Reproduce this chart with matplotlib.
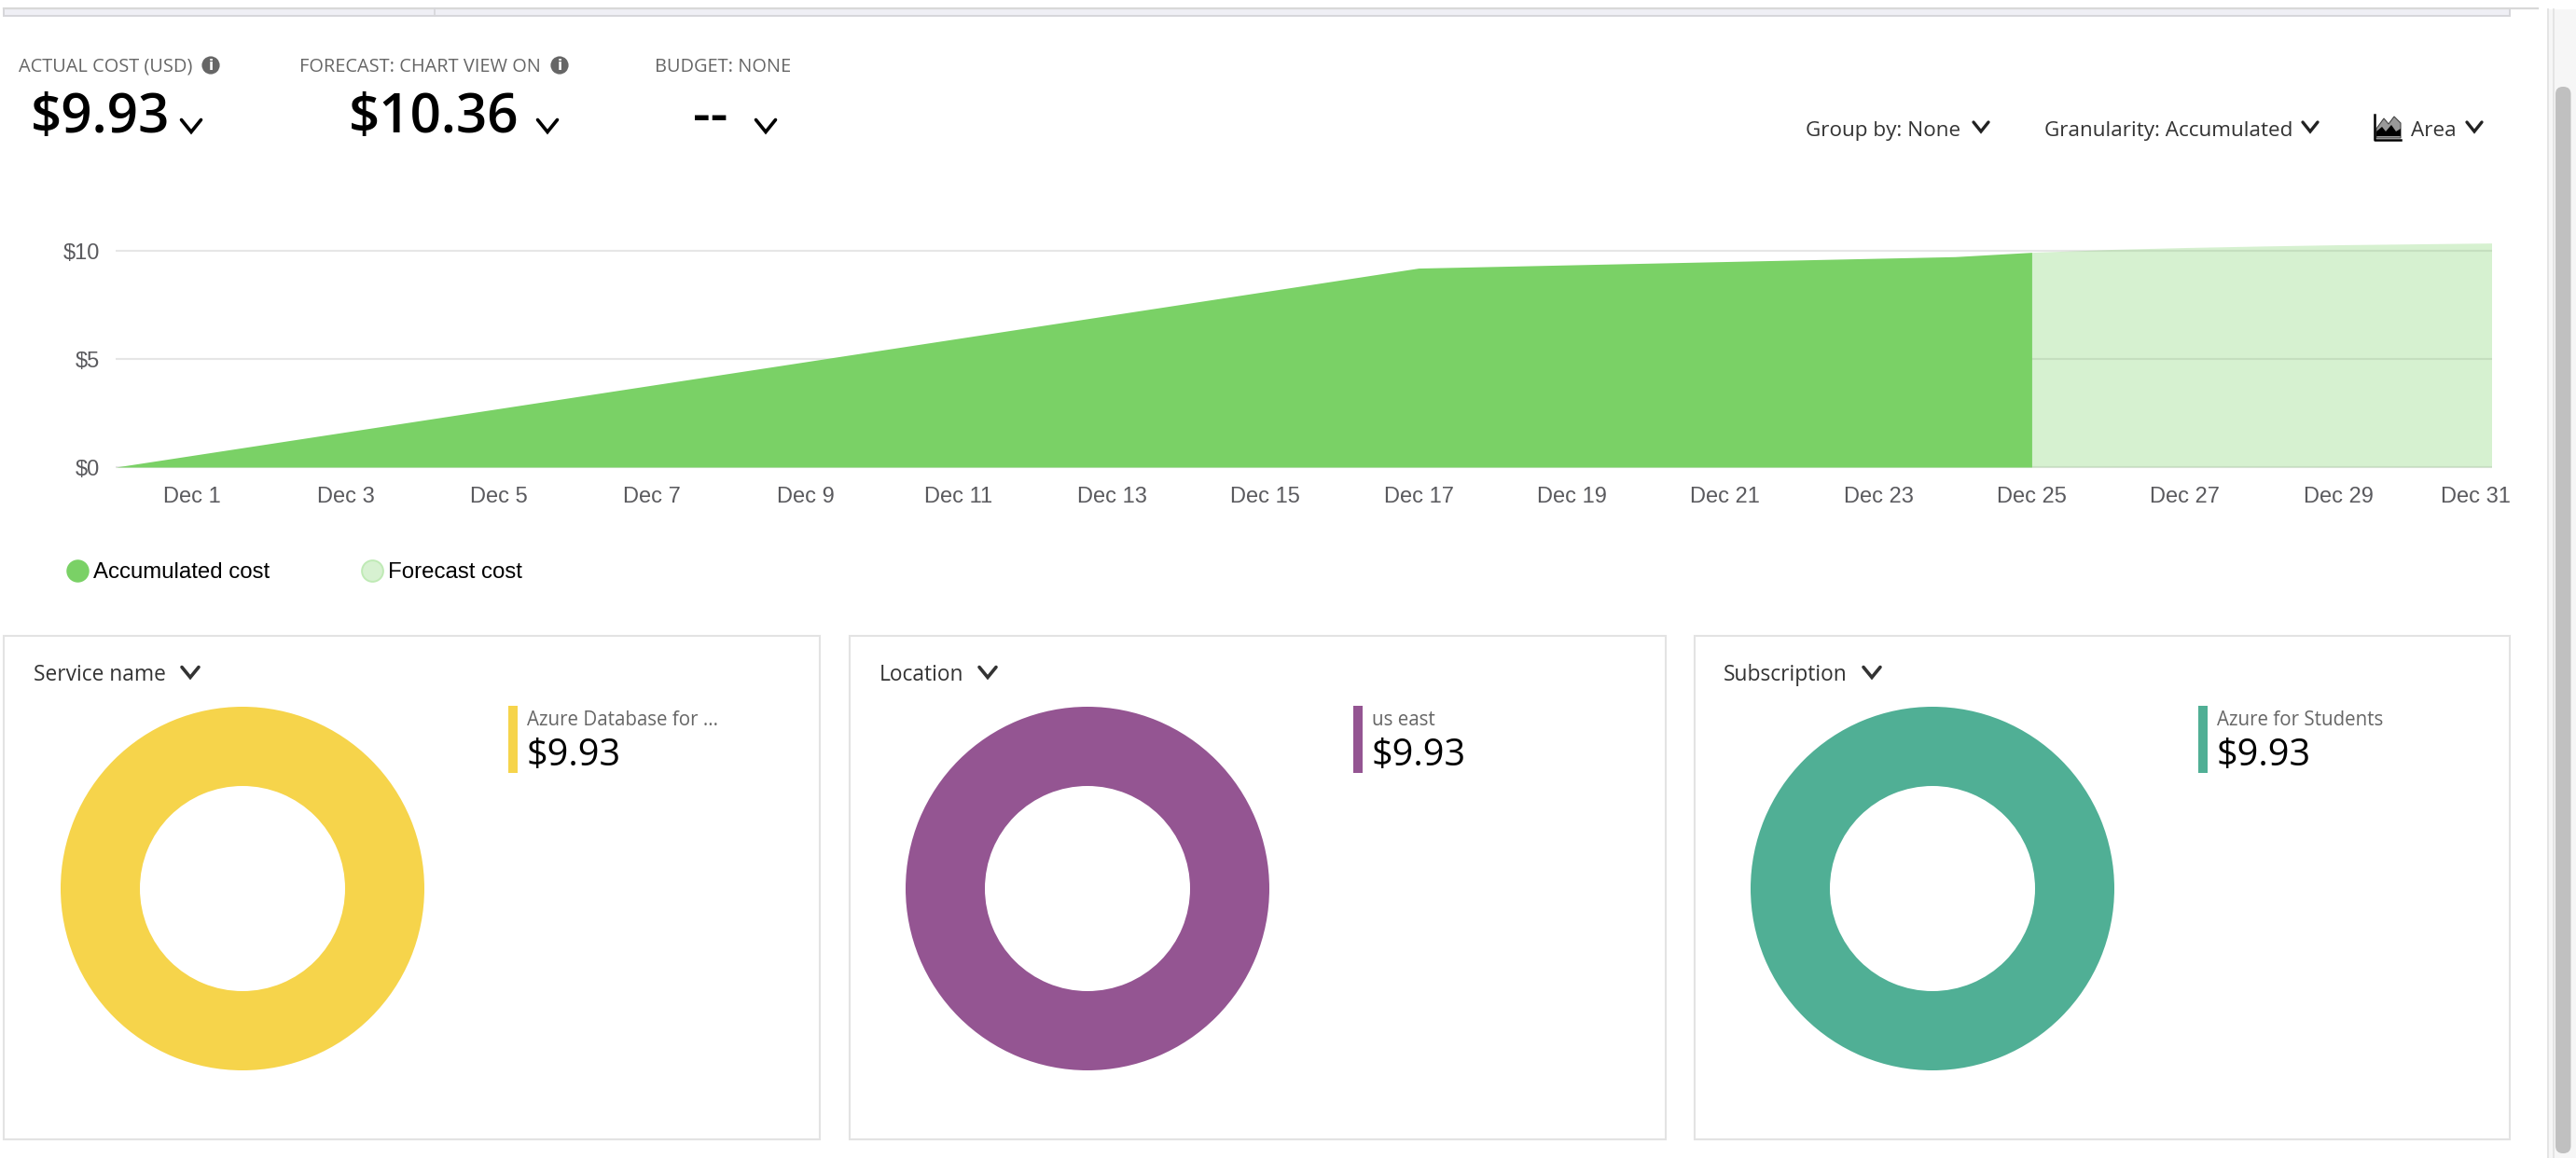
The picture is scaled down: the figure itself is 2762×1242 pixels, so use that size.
import matplotlib
matplotlib.use("Agg")
import matplotlib.pyplot as plt
from matplotlib.lines import Line2D
from matplotlib.patches import Rectangle, Circle, FancyBboxPatch, Polygon
from matplotlib.transforms import ScaledTranslation

# ---- data ----
actual_days = [0, 17, 24, 25]
actual_cost = [0, 9.2, 9.73, 9.93]
forecast_days = [25, 26, 27, 28, 29, 31]
forecast_cost = [9.93, 10.06, 10.15, 10.22, 10.28, 10.36]
tick_days = [1, 3, 5, 7, 9, 11, 13, 15, 17, 19, 21, 23, 25, 27, 29, 31]
tick_labels = ["Dec %d" % d for d in tick_days]
y_ticks = [0, 5, 10]
y_labels = ["$0", "$5", "$10"]
series_names = ["Accumulated cost", "Forecast cost"]
panel_titles = ["Service name", "Location", "Subscription"]
panel_items = ["Azure Database for ...", "us east", "Azure for Students"]
panel_values = [9.93, 9.93, 9.93]
panel_colors = ["#F6D44B", "#945592", "#50AF95"]
kpi_titles = ["ACTUAL COST (USD)", "FORECAST: CHART VIEW ON", "BUDGET: NONE"]
kpi_values = ["$9.93", "$10.36", "--"]
controls = ["Group by: None", "Granularity: Accumulated", "Area"]

GREEN = "#7AD166"
W, H = 2762, 1242
UI = "Open Sans"
CHART = "Liberation Sans"
plt.rcParams["font.family"] = [UI, "DejaVu Sans"]

fig = plt.figure(figsize=(W / 100, H / 100), dpi=100, facecolor="white")

# pixel-space layer for the page furniture
ui = fig.add_axes([0, 0, 1, 1], zorder=-1)
ui.set_xlim(0, W)
ui.set_ylim(H, 0)
ui.axis("off")


def axes_px(x0, y0, x1, y1, **kw):
    return fig.add_axes([x0 / W, 1 - y1 / H, (x1 - x0) / W, (y1 - y0) / H], **kw)


def chevron(x, y, w=16, h=10, lw=2.4, color="#222222"):
    ui.plot([x - w / 2, x, x + w / 2], [y - h / 2, y + h / 2, y - h / 2],
            color=color, lw=lw, solid_capstyle="round", solid_joinstyle="miter")


def info(x, y):
    ui.add_patch(Circle((x, y), 9.6, fc="#666666", ec="none"))
    ui.text(x, y + 0.5, "i", color="white", fontsize=11, fontweight="bold",
            ha="center", va="center", family="DejaVu Sans")


# top strip
ui.add_patch(Rectangle((4, 9), 2687, 8, fc="#EFEFF5", ec="#D6D6DA", lw=1.4))
ui.plot([4, 2721], [9, 9], color="#D8D8D8", lw=1.6)
ui.plot([466, 466], [9, 17], color="#D6D6DA", lw=1.2)

# scrollbar
ui.add_patch(Rectangle((2732, 10), 30, H - 10, fc="#F6F6F6", ec="none"))
ui.plot([2732, 2732], [10, H], color="#E4E4E4", lw=1.4)
ui.plot([2738.5, 2738.5], [10, H], color="#E4E4E4", lw=1.4)
ui.add_patch(FancyBboxPatch((2748, 101), 0.5, 1128, boxstyle="round,pad=8,rounding_size=8",
                            fc="#C0C0C0", ec="none"))

# KPI block
kpi_title_x = [20, 321, 702]
kpi_value_x = [33, 374, 743]
kpi_chev_x = [205, 587, 821]
for i in range(3):
    ui.text(kpi_title_x[i], 77, kpi_titles[i], color="#666666", fontsize=14.4, fontweight="normal",
            ha="left", va="baseline")
    ui.text(kpi_value_x[i], 142, kpi_values[i], color="black", fontsize=42, fontweight="semibold",
            ha="left", va="baseline")
    chevron(kpi_chev_x[i], 135, w=21, h=13, lw=2.6, color="black")
info(226, 70)
info(600, 70)

# controls
ui.text(1936, 146, controls[0], color="#333333", fontsize=16.2, ha="left", va="baseline")
chevron(2124, 136)
ui.text(2192, 146, controls[1], color="#333333", fontsize=16.2, ha="left", va="baseline")
chevron(2477, 136)
ui.text(2585, 146, controls[2], color="#333333", fontsize=16.2, ha="left", va="baseline")
chevron(2653, 136)
ui.plot([2546, 2546, 2574], [123, 150, 150], color="black", lw=1.8)
ui.add_patch(Polygon([(2548, 148), (2548, 138), (2556, 127), (2561, 133), (2567, 125), (2574, 132), (2574, 148)],
                     fc="#999999", ec="#444444", lw=0.8))
ui.add_patch(Polygon([(2548, 146), (2548, 141), (2554, 136), (2558, 141), (2564, 134), (2569, 141), (2574, 138), (2574, 146)],
                     fc="black", ec="none"))

# ---- main area chart ----
ax = axes_px(124, 255, 2671.5, 503)
ax.set_xlim(0, 31)
ax.set_ylim(-2 / 23.2, 246 / 23.2)
ax.fill_between(actual_days, actual_cost, 0, color=GREEN, lw=0, zorder=2, label=series_names[0])
ax.fill_between(forecast_days, forecast_cost, 0, color=GREEN, alpha=0.3, lw=0, zorder=3, label=series_names[1])
ax.set_yticks(y_ticks, y_labels)
ax.set_xticks(tick_days, tick_labels)
ax.grid(axis="y", color="#E6E6E6", lw=1.5, zorder=1)
ax.grid(axis="x", visible=False)
ax.set_axisbelow(True)
for s in ax.spines.values():
    s.set_visible(False)
ax.patch.set_alpha(0)
ax.tick_params(axis="x", length=0, pad=14, labelsize=17, labelcolor="#5A5A5E")
ax.tick_params(axis="y", length=0, pad=12, labelsize=17, labelcolor="#5A5A5E")
for lab in ax.get_xticklabels() + ax.get_yticklabels():
    lab.set_family([CHART, "DejaVu Sans"])
last = ax.get_xticklabels()[-1]
last.set_transform(last.get_transform() + ScaledTranslation(-17 / 100, 0, fig.dpi_scale_trans))
for lab in ax.get_xticklabels()[-1:]:
    lab.set_clip_on(False)

handles = [
    Line2D([], [], ls="", marker="o", ms=17.6, mfc=GREEN, mec=GREEN, mew=0),
    Line2D([], [], ls="", marker="o", ms=16.4, mfc="#D7F1D1", mec="#BFEAB5", mew=1.4),
]
leg = fig.legend(handles, series_names, loc="center left", bbox_to_anchor=(71, 614),
                 bbox_transform=ui.transData, ncol=2, frameon=False,
                 borderpad=0, borderaxespad=0, handlelength=1, handletextpad=0.19,
                 columnspacing=4.1, prop={"family": [CHART, "DejaVu Sans"], "size": 17.3})

# ---- bottom panels ----
panel_x = [(4.5, 879), (911, 1786), (1817, 2691)]
title_x = [36, 943, 1848]
title_chev = [204, 1059, 2007]
donut_cx = [260, 1166, 2072]
bar_x = [545, 1451, 2357]
for i in range(3):
    x0, x1 = panel_x[i]
    ui.add_patch(Rectangle((x0, 681.5), x1 - x0, 540.5, fc="white", ec="#E3E3E3", lw=1.5))
    ui.text(title_x[i], 729.5, panel_titles[i], color="#333333", fontsize=16.4, ha="left", va="baseline")
    chevron(title_chev[i], 721, w=18, h=11, lw=2.6, color="#333333")
    d = axes_px(donut_cx[i] - 195, 953 - 195, donut_cx[i] + 195, 953 + 195)
    d.pie([panel_values[i]], colors=[panel_colors[i]], radius=1, startangle=90,
          wedgeprops={"width": 85 / 195, "lw": 0})
    d.set_xlim(-1, 1)
    d.set_ylim(-1, 1)
    ui.add_patch(Rectangle((bar_x[i], 757), 10, 72, fc=panel_colors[i], ec="none"))
    ui.text(bar_x[i] + 20, 778, panel_items[i], color="#666666", fontsize=14.8, ha="left", va="baseline")
    ui.text(bar_x[i] + 20, 820.5, "$%.2f" % panel_values[i], color="black", fontsize=28.5, ha="left", va="baseline")

fig.savefig("out.png", dpi=100, facecolor="white")
